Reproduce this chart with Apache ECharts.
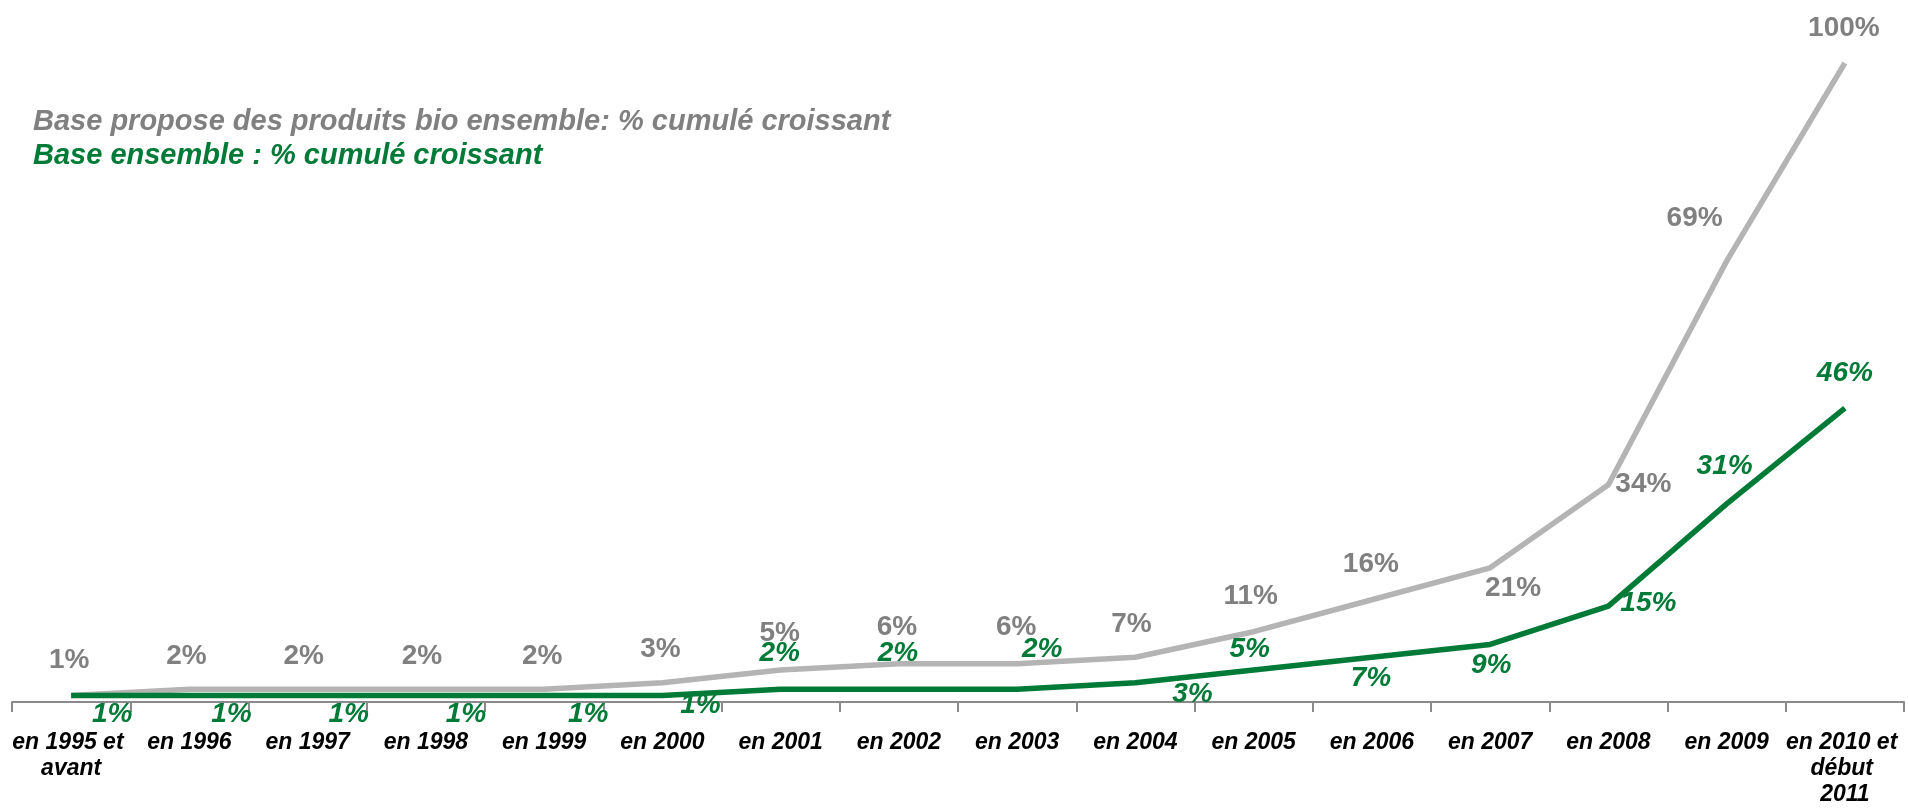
<!DOCTYPE html>
<html>
<head>
<meta charset="utf-8">
<title>Ouverture des points de vente – % cumulé croissant</title>
<script src="https://cdn.jsdelivr.net/npm/echarts@6/dist/echarts.min.js"></script>
<style>
  html, body { margin: 0; padding: 0; background: #ffffff; }
  #chart { width: 1908px; height: 808px; }
</style>
</head>
<body>
<div id="chart"></div>
<script>
// Categories along the x axis
const years = [
  'en 1995 et avant', 'en 1996', 'en 1997', 'en 1998', 'en 1999', 'en 2000',
  'en 2001', 'en 2002', 'en 2003', 'en 2004', 'en 2005', 'en 2006',
  'en 2007', 'en 2008', 'en 2009', 'en 2010 et début 2011'
];

// Cumulative shares (%)
const bioName = 'Base propose des produits bio ensemble: % cumulé croissant';
const bioValues = [1, 2, 2, 2, 2, 3, 5, 6, 6, 7, 11, 16, 21, 34, 69, 100];

const allName = 'Base ensemble : % cumulé croissant';
const allValues = [1, 1, 1, 1, 1, 1, 2, 2, 2, 3, 5, 7, 9, 15, 31, 46];

// Label placement around each point, [dx, dy] in pixels
const bioLabelShift = [
  [-2, -35], [-3, -33], [-4, -33], [-4, -33], [-2, -33], [-2, -34],
  [-1, -37], [-2, -36], [-1, -36], [-4, -33], [-3, -35], [-1, -35],
  [23, 20], [35, 0], [-32, -43], [-1, -35]
];
const allLabelShift = [
  [41, 19], [42, 19], [41, 19], [40, 19], [44, 19], [38, 10],
  [-1, -36], [-1, -36], [25, -40], [57, 11], [-4, -21], [-1, 21],
  [1, 21], [40, -3], [-2, -38], [0, -35]
];

const GRAY_LINE = '#b4b4b4';
const GRAY_TEXT = '#808080';
const GREEN = '#007a37';
const FONT = '"Liberation Sans", Arial, sans-serif';

function withLabels(values, shifts) {
  return values.map((v, i) => ({
    value: v,
    label: { offset: shifts[i] }
  }));
}

const chart = echarts.init(document.getElementById('chart'), null, { renderer: 'canvas' });

chart.setOption({
  animation: false,
  backgroundColor: '#ffffff',
  grid: { left: 12, right: 4, top: 63, bottom: 103, containLabel: false },
  legend: {
    orient: 'vertical',
    left: 23,
    top: 101,
    icon: 'none',
    itemWidth: 0,
    itemHeight: 0,
    itemGap: 2,
    selectedMode: false,
    data: [
      { name: bioName, textStyle: { color: GRAY_TEXT } },
      { name: allName, textStyle: { color: GREEN } }
    ],
    textStyle: {
      fontFamily: FONT,
      fontSize: 29,
      fontWeight: 'bold',
      fontStyle: 'italic',
      lineHeight: 32
    }
  },
  xAxis: {
    type: 'category',
    data: years,
    boundaryGap: true,
    axisLine: { show: true, lineStyle: { color: '#8a8a8a', width: 2 } },
    axisTick: { show: true, length: 10, lineStyle: { color: '#8a8a8a', width: 2 } },
    axisLabel: {
      interval: 0,
      margin: 28,
      color: '#000000',
      fontFamily: FONT,
      fontSize: 23,
      fontWeight: 'bold',
      fontStyle: 'italic',
      lineHeight: 26,
      width: 118,
      overflow: 'break'
    },
    splitLine: { show: false }
  },
  yAxis: {
    type: 'value',
    min: 0,
    max: 100,
    show: false,
    splitLine: { show: false }
  },
  series: [
    {
      name: bioName,
      type: 'line',
      silent: true,
      data: withLabels(bioValues, bioLabelShift),
      symbol: 'circle',
      symbolSize: 1,
      showSymbol: true,
      itemStyle: { color: 'rgba(0,0,0,0)' },
      lineStyle: { color: GRAY_LINE, width: 5.5 },
      label: {
        show: true,
        position: 'inside',
        formatter: '{c}%',
        color: GRAY_TEXT,
        fontFamily: FONT,
        fontSize: 28,
        fontWeight: 'bold'
      },
      z: 2
    },
    {
      name: allName,
      type: 'line',
      silent: true,
      data: withLabels(allValues, allLabelShift),
      symbol: 'circle',
      symbolSize: 1,
      showSymbol: true,
      itemStyle: { color: 'rgba(0,0,0,0)' },
      lineStyle: { color: GREEN, width: 5.5 },
      label: {
        show: true,
        position: 'inside',
        formatter: '{c}%',
        color: GREEN,
        fontFamily: FONT,
        fontSize: 28,
        fontWeight: 'bold',
        fontStyle: 'italic'
      },
      z: 3
    }
  ]
});
</script>
</body>
</html>
